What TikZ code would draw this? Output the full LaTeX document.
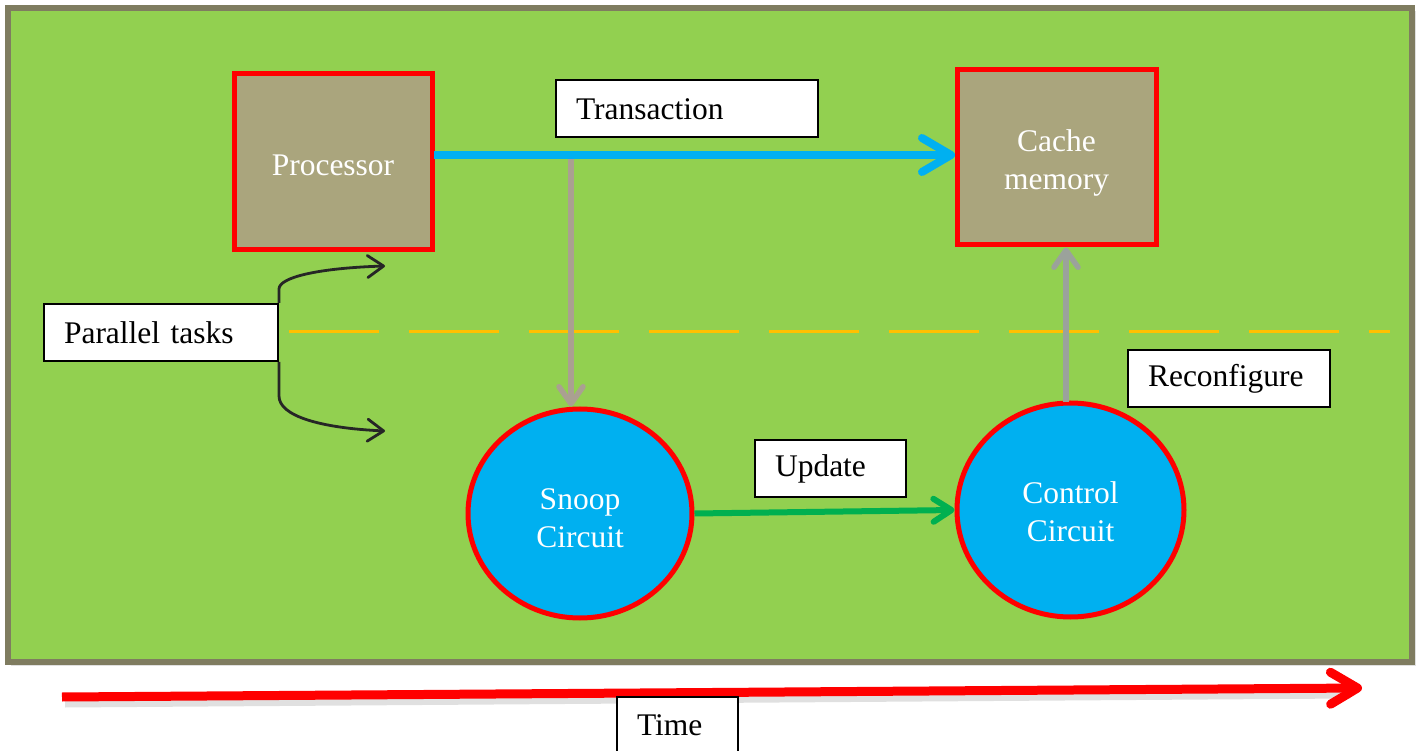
\documentclass[tikz,border=0pt]{standalone}
\usepackage{fontspec}
\setmainfont{Liberation Serif}
\usetikzlibrary{arrows.meta,shapes.geometric,calc}
\definecolor{bggreen}{RGB}{146,208,80}
\definecolor{frame}{RGB}{127,124,96}
\definecolor{tan}{RGB}{170,165,125}
\definecolor{skyblue}{RGB}{0,176,240}
\definecolor{arrgreen}{RGB}{0,176,80}
\definecolor{dashorange}{RGB}{255,192,0}
\definecolor{graytan}{RGB}{170,160,145}
\definecolor{graygreen}{RGB}{155,162,155}
\definecolor{darkline}{RGB}{38,38,38}
\newcommand\tallstrut[1]{\rule{0pt}{#1}}
\tikzset{
  unitbox/.style={rectangle, draw=red, line width=5pt, fill=tan, text=white, align=center, inner sep=0pt},
  unitcirc/.style={ellipse, draw=red, line width=5pt, fill=skyblue, text=white, align=center, inner sep=0pt},
  lbl/.style={rectangle, draw=black, line width=2pt, fill=white, align=left, inner xsep=20pt, inner ysep=0pt, minimum height=57pt, text width=#1},
  shadowline/.style={draw=black, opacity=0.12},
}
\begin{document}
\begin{tikzpicture}[x=1pt,y=-1pt,font=\fontsize{31.5}{38}\selectfont]
\clip (0,0) rectangle (1417,751);
\fill[white] (0,0) rectangle (1417,751);
% background panel
\fill[black,opacity=0.12] (11,11) rectangle (1416,666);
\draw[frame, line width=6pt, fill=bggreen] (8,8) rectangle (1412,662);

% nodes
\node[unitbox, minimum width=198pt, minimum height=176pt] (proc) at (333,162) {\tallstrut{28pt}Processor};
\node[unitbox, minimum width=199pt, minimum height=175pt] (cache) at (1056.5,157.5) {\tallstrut{32pt}Cache\\memory};
\node[unitcirc, minimum width=224pt, minimum height=209pt] (snoop) at (580,513.5) {\tallstrut{30pt}Snoop\\Circuit};
\node[unitcirc, minimum width=227pt, minimum height=214pt] (ctrl) at (1070.5,510) {\tallstrut{26pt}Control\\Circuit};

\node[lbl=222pt] (trans) at (687,109) {Transaction};
\node[lbl=194pt] (ptasks) at (161,332.5) {Parallel tasks};
\node[lbl=162pt] (reconf) at (1229,378.5) {Reconfigure};
\node[lbl=111pt] (upd) at (830.5,468.5) {Update};

% dashed separator
\coordinate (dl) at (289,332);
\coordinate (dr) at (1390,332);
\draw[dashorange, line width=3pt, dash pattern=on 90pt off 30pt] (dl) -- (dr);

% parallel tasks brace
\coordinate (ptop) at (385,266);
\coordinate (pbot) at (385,431);
\draw[darkline, line width=2.8pt, -{Straight Barb[length=16pt, width=22pt, round]}]
  (ptasks.north east) -- ++(0,-14) .. controls +(0,-12) and (320,268) .. (ptop);
\draw[darkline, line width=2.8pt, -{Straight Barb[length=16pt, width=22pt, round]}]
  (ptasks.south east) -- ++(0,34) .. controls +(0,20) and (320,428) .. (pbot);

% gray arrows
\coordinate (tap) at (571,155);
\draw[graytan, line width=5.5pt, -{Straight Barb[length=17pt, width=24pt, round]}] (tap) -- (tap |- snoop.north);
\coordinate (cup) at (1066,402);
\draw[graygreen, line width=5.5pt, -{Straight Barb[length=17pt, width=24pt, round]}] (cup) -- (cup |- cache.south);

% transaction arrow
\coordinate (bstart) at (434,155);
\coordinate (bend) at (955,155);
\draw[skyblue, line width=8pt, -{Straight Barb[length=29pt, width=34pt, round]}] (bstart) -- (bend);

% update arrow
\draw[arrgreen, line width=6pt, -{Straight Barb[length=18pt, width=23pt, round]}] (snoop.east) -- (ctrl.west);

% time arrow
\coordinate (tstart) at (62,697);
\coordinate (tend) at (1362,688);
\draw[shadowline, line width=11pt] ($(tstart)+(3,5)$) -- ($(tend)+(-12,5)$);
\draw[red, line width=9pt, -{Straight Barb[length=27pt, width=32pt, round]}] (tstart) -- (tend);
\node[lbl=81pt] (time) at (677.5,725.5) {Time};
\end{tikzpicture}
\end{document}
